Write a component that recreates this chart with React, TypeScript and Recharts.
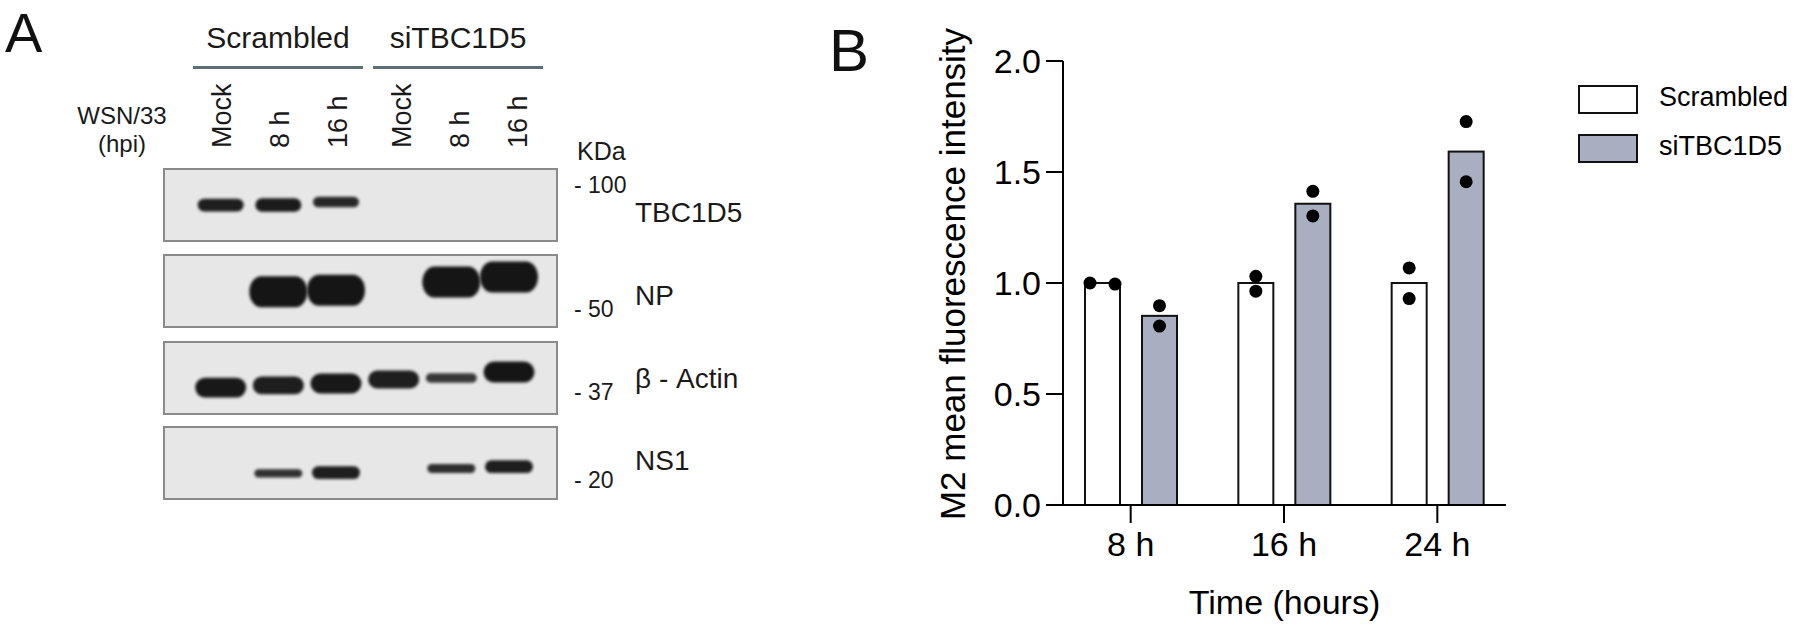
import React from 'react';
import { BarChart, Bar, XAxis, YAxis, Legend, Label, ScatterChart, Scatter } from 'recharts';

const FONT = '"Liberation Sans", Arial, Helvetica, sans-serif';

// ---------------- Panel B data ----------------
const timeLabels = ['8 h', '16 h', '24 h'];
const seriesNames = ['Scrambled', 'siTBC1D5'];
const scrambledMeans = [1.0, 1.0, 1.0];
const sitbcMeans = [0.852, 1.357, 1.592];
const scrambledPoints = [[1.0, 0.995], [1.03, 0.963], [1.068, 0.93]];
const sitbcPoints = [[0.898, 0.806], [1.413, 1.302], [1.727, 1.456]];
const yTicks = [0, 0.5, 1.0, 1.5, 2.0];

// ---------------- Panel A data ----------------
const groupLabels = ['Scrambled', 'siTBC1D5'];
const laneLabels = ['Mock', '8 h', '16 h', 'Mock', '8 h', '16 h'];
const proteinLabels = ['TBC1D5', 'NP', 'β - Actin', 'NS1'];
const markerLabels = ['100', '50', '37', '20'];
// band intensity per lane (0 = no band)
const tbc1d5Intensity = [0.85, 0.9, 0.7, 0, 0, 0];
const npIntensity = [0, 1, 1, 0, 1, 1];
const actinIntensity = [0.95, 0.85, 0.95, 0.85, 0.45, 1];
const ns1Intensity = [0, 0.55, 0.85, 0, 0.6, 0.85];
// band migration within each membrane strip (0 = top, 1 = bottom)
const tbc1d5Migration = [0.5, 0.5, 0.46, 0.5, 0.5, 0.5];
const npMigration = [0.5, 0.51, 0.49, 0.4, 0.38, 0.31];
const actinMigration = [0.63, 0.6, 0.575, 0.52, 0.5, 0.42];
const ns1Migration = [0.64, 0.64, 0.63, 0.58, 0.575, 0.55];

// ---------------- layout / style ----------------
const BAR_FILLS = ['#ffffff', '#a9aec1'];
const DOT_R = 6.5;
const BLOT_TOPS = [168, 254, 341, 426];
const BLOT_LEFT = 163;
const BLOT_W = 395;
const BLOT_H = 74;
const BAND_THICK = [15, 31, 21, 15];
const BAND_WIDTH = [46, 58, 51, 48];
const MARKER_DY = [25, 63, 59, 62];
const PROTEIN_DY = [54, 51, 47, 44];

const blots = [
  { intensity: tbc1d5Intensity, migration: tbc1d5Migration },
  { intensity: npIntensity, migration: npMigration },
  { intensity: actinIntensity, migration: actinMigration },
  { intensity: ns1Intensity, migration: ns1Migration },
];

const chartData = timeLabels.map((t, i) => ({
  time: t,
  scrambled: scrambledMeans[i],
  sitbc: sitbcMeans[i],
  scrambledPts: scrambledPoints[i],
  sitbcPts: sitbcPoints[i],
}));

function makeBarShape(fill: string, meanKey: string, ptsKey: string) {
  return (props: any) => {
    const { x, y, width, height, payload } = props;
    const mean = payload[meanKey];
    const base = y + height;
    const ppu = mean ? height / mean : 0;
    const pts: number[] = payload[ptsKey] || [];
    const cx = x + width / 2;
    const ys = pts.map((v) => base - v * ppu);
    const close = ys.length === 2 && Math.abs(ys[0] - ys[1]) < DOT_R * 2;
    return (
      <g>
        <rect x={x} y={y} width={width} height={height} fill={fill} stroke="#111" strokeWidth={2} />
        {ys.map((py, k) => (
          <circle key={k} cx={close ? cx + (k === 0 ? -12.5 : 12.5) : cx} cy={py} r={DOT_R} fill="#000" />
        ))}
      </g>
    );
  };
}

function makeBandShape(thick: number, w: number) {
  return (props: any) => {
    const { cx, cy, payload } = props;
    const h = thick * payload.intensity;
    return (
      <rect
        x={cx - w / 2}
        y={cy - h / 2}
        width={w}
        height={h}
        rx={Math.min(h / 2, 12)}
        ry={h / 2}
        fill="#151515"
        opacity={0.7 + 0.3 * payload.intensity}
        style={{ filter: 'blur(1.8px)' }}
      />
    );
  };
}

const renderLegend = (props: any) => (
  <div style={{ fontFamily: FONT }}>
    {(props.payload || []).map((e: any, i: number) => (
      <div key={i} style={{ display: 'flex', alignItems: 'center', height: 29, marginBottom: 20 }}>
        <div
          style={{
            width: 60,
            height: 29,
            boxSizing: 'border-box',
            border: '2.5px solid #111',
            background: e.color,
          }}
        />
        <span style={{ marginLeft: 21, fontSize: 27, lineHeight: 1, color: '#000', position: 'relative', top: -2 }}>
          {e.value}
        </span>
      </div>
    ))}
  </div>
);

const XLabel = (p: any) => {
  const vb = p.viewBox || {};
  return (
    <text x={vb.x + vb.width / 2} y={vb.y + 108.5} textAnchor="middle" fontSize={34} fontFamily={FONT} fill="#000">
      Time (hours)
    </text>
  );
};

const YLabel = (p: any) => {
  const vb = p.viewBox || {};
  const x = vb.x - 18;
  const y = vb.y + vb.height / 2 - 9;
  return (
    <text
      transform={`translate(${x},${y}) rotate(-90)`}
      textAnchor="middle"
      fontSize={35}
      fontFamily={FONT}
      fill="#000"
    >
      M2 mean fluorescence intensity
    </text>
  );
};

function PanelAText() {
  return (
    <svg width={900} height={630} style={{ position: 'absolute', left: 0, top: 0 }} fontFamily={FONT}>
      <text x={5} y={52} fontSize={56} fill="#111">A</text>
      {groupLabels.map((g, gi) => {
        const c = 231 + 58 + gi * 180 - 11;
        return (
          <g key={gi}>
            <text x={c} y={48} fontSize={30} textAnchor="middle" fill="#1a1a1a">{g}</text>
            <line x1={c - 85} x2={c + 85} y1={67.5} y2={67.5} stroke="#5e6e79" strokeWidth={3} />
          </g>
        );
      })}
      <text x={122} y={124} fontSize={24} textAnchor="middle" fill="#1a1a1a">WSN/33</text>
      <text x={122} y={152} fontSize={24} textAnchor="middle" fill="#1a1a1a">(hpi)</text>
      {laneLabels.map((l, i) => {
        const bx = 231 + (i % 3) * 58 + Math.floor(i / 3) * 180;
        return (
          <text key={i} transform={`translate(${bx},148) rotate(-90)`} fontSize={27} fill="#1a1a1a">
            {l}
          </text>
        );
      })}
      <text x={577} y={160} fontSize={25} fill="#1a1a1a">KDa</text>
      {markerLabels.map((m, i) => (
        <text key={i} x={574} y={BLOT_TOPS[i] + MARKER_DY[i]} fontSize={23} fill="#1a1a1a">{`- ${m}`}</text>
      ))}
      {proteinLabels.map((p, i) => (
        <text key={i} x={635} y={BLOT_TOPS[i] + PROTEIN_DY[i]} fontSize={28} fill="#1a1a1a">{p}</text>
      ))}
      <text x={829} y={71} fontSize={60} fill="#111">B</text>
    </svg>
  );
}

function Blot({ index }: { index: number }) {
  const b = blots[index];
  const data = b.intensity
    .map((v, i) => ({ lane: i + 1, pos: b.migration[i], intensity: v }))
    .filter((d) => d.intensity > 0);
  return (
    <div
      style={{
        position: 'absolute',
        left: BLOT_LEFT,
        top: BLOT_TOPS[index],
        width: BLOT_W,
        height: BLOT_H,
        boxSizing: 'border-box',
        border: '2px solid #8a8a8a',
        background: '#e7e7e7',
      }}
    >
      <div style={{ position: 'absolute', left: -2, top: -2 }}>
        <ScatterChart width={BLOT_W} height={BLOT_H} margin={{ top: 0, right: 0, bottom: 0, left: 0 }}>
          <XAxis type="number" dataKey="lane" domain={[0, 6.85]} hide />
          <YAxis type="number" dataKey="pos" domain={[0, 1]} reversed hide />
          <Scatter
            data={data}
            isAnimationActive={false}
            shape={makeBandShape(BAND_THICK[index], BAND_WIDTH[index])}
          />
        </ScatterChart>
      </div>
    </div>
  );
}

export default function App() {
  return (
    <div
      style={{
        position: 'absolute',
        left: 0,
        top: 0,
        width: 1800,
        height: 630,
        background: '#fff',
        fontFamily: FONT,
        overflow: 'hidden',
      }}
    >
      <PanelAText />
      {blots.map((_, i) => (
        <Blot key={i} index={i} />
      ))}
      <div style={{ position: 'absolute', left: 900, top: 0 }}>
        <BarChart
          width={900}
          height={630}
          data={chartData}
          margin={{ top: 61, right: 294, bottom: 65, left: 83 }}
          barGap={22}
          barSize={35}
        >
          <XAxis
            dataKey="time"
            type="category"
            padding={{ left: -9, right: -8 }}
            height={60}
            tickSize={18}
            tickMargin={9}
            interval={0}
            axisLine={{ stroke: '#000', strokeWidth: 2 }}
            tickLine={{ stroke: '#000', strokeWidth: 2 }}
            tick={{ fontSize: 34, fill: '#000', fontFamily: FONT }}
          >
            <Label content={XLabel} />
          </XAxis>
          <YAxis
            type="number"
            domain={[0, 2]}
            ticks={yTicks}
            width={80}
            tickSize={17}
            tickMargin={5}
            tickFormatter={(v: number) => v.toFixed(1)}
            axisLine={{ stroke: '#000', strokeWidth: 2 }}
            tickLine={{ stroke: '#000', strokeWidth: 2 }}
            tick={{ fontSize: 34, fill: '#000', fontFamily: FONT }}
          >
            <Label content={YLabel} />
          </YAxis>
          <Legend
            layout="vertical"
            align="center"
            verticalAlign="middle"
            wrapperStyle={{ left: 678, top: 85, width: 220 }}
            content={renderLegend}
          />
          <Bar
            dataKey="scrambled"
            name={seriesNames[0]}
            fill={BAR_FILLS[0]}
            isAnimationActive={false}
            shape={makeBarShape(BAR_FILLS[0], 'scrambled', 'scrambledPts')}
          />
          <Bar
            dataKey="sitbc"
            name={seriesNames[1]}
            fill={BAR_FILLS[1]}
            isAnimationActive={false}
            shape={makeBarShape(BAR_FILLS[1], 'sitbc', 'sitbcPts')}
          />
        </BarChart>
      </div>
    </div>
  );
}
